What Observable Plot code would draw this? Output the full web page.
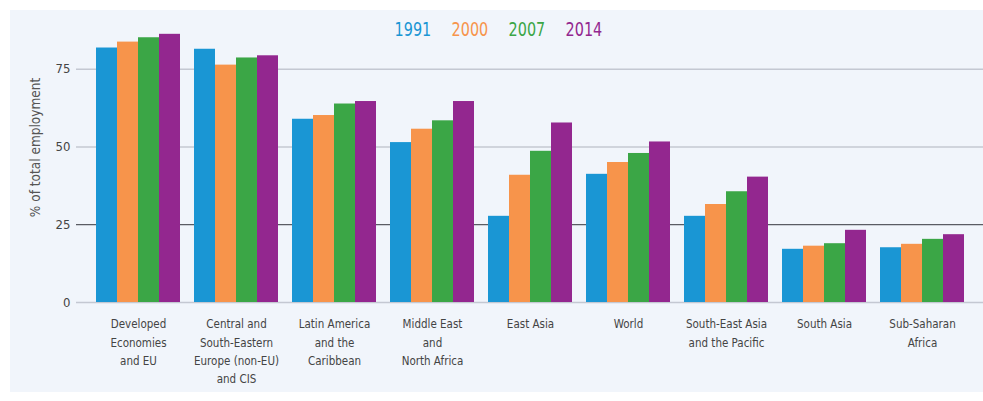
<!DOCTYPE html>
<html><head><meta charset="utf-8">
<script src="https://cdn.jsdelivr.net/npm/d3@7"></script>
<script src="https://cdn.jsdelivr.net/npm/@observablehq/plot@0.6"></script>
<style>
body{margin:0;background:#fff;}
#wrap{position:relative;width:983px;height:401px;overflow:hidden;font-family:"Liberation Sans Narrow","DejaVu Sans Condensed","DejaVu Sans",sans-serif;font-stretch:condensed;}
#panel{position:absolute;left:10px;top:10px;right:0;bottom:9px;background:#f1f5fb;}
#legend{position:absolute;top:17px;left:14px;right:0;display:flex;justify-content:center;gap:11px;font-size:20px;}
#legend span{display:inline-block;transform:scaleX(0.8);}
.layer{position:absolute;left:0;top:0;}
</style></head><body>
<div id="wrap"><div id="panel"></div><div id="legend"></div><div id="grid" class="layer"></div><div id="chart" class="layer"></div></div>
<script>
const regions = [
  "Developed\nEconomies\nand EU",
  "Central and\nSouth-Eastern\nEurope (non-EU)\nand CIS",
  "Latin America\nand the\nCaribbean",
  "Middle East\nand\nNorth Africa",
  "East Asia",
  "World",
  "South-East Asia\nand the Pacific",
  "South Asia",
  "Sub-Saharan\nAfrica"
];
const years = ["1991", "2000", "2007", "2014"];
const colors = ["#1a96d4", "#f7944b", "#3ba646", "#93278f"];
const v1991 = [81.8, 81.4, 58.9, 51.4, 27.7, 41.2, 27.7, 17.1, 17.6];
const v2000 = [83.7, 76.3, 60.1, 55.7, 40.9, 45.0, 31.5, 18.1, 18.7];
const v2007 = [85.1, 78.6, 63.8, 58.4, 48.6, 47.9, 35.6, 18.9, 20.3];
const v2014 = [86.2, 79.3, 64.6, 64.6, 57.7, 51.6, 40.3, 23.2, 21.8];
const yTicks = [0, 25, 50, 75];
const yLabel = "% of total employment";

const series = [v1991, v2000, v2007, v2014];
const data = [];
regions.forEach((r, i) => years.forEach((y, j) => data.push({region: r, year: y, value: series[j][i]})));

const font = '"Liberation Sans Narrow","DejaVu Sans Condensed","DejaVu Sans",sans-serif';
const base = {
  width: 983, height: 401, marginTop: 22, marginBottom: 99,
  style: {background: "transparent", fontFamily: font, fontStretch: "condensed", overflow: "visible"}
};

// underlay: grid lines, y axis, y label
const grid = Plot.plot({
  ...base, marginLeft: 82, marginRight: 5,
  y: {domain: [0, 90], axis: null},
  marks: [
    Plot.ruleY(yTicks.filter(d => d !== 25), {stroke: "#c4c8d2", strokeWidth: 1.5, insetLeft: -6, insetRight: -5}),
    Plot.ruleY(yTicks.filter(d => d === 25), {stroke: "#5a5c63", strokeWidth: 1.2, insetLeft: -6, insetRight: -5}),
    Plot.axisY(yTicks, {tickSize: 0, tickPadding: 12, fontSize: 13, fill: "#444", label: null}),
    Plot.text([yLabel], {frameAnchor: "left", textAnchor: "middle", rotate: -90, dx: -47, dy: -15, fontSize: 13.5, fill: "#555"})
  ]
});
document.getElementById("grid").appendChild(grid);

// bars
const chart = Plot.plot({
  ...base, marginLeft: 92, marginRight: 15,
  fx: {domain: regions, padding: 0.14, label: null},
  x: {domain: years, padding: 0, axis: null},
  y: {domain: [0, 90], axis: null},
  color: {domain: years, range: colors},
  marks: [
    Plot.barY(data, {fx: "region", x: "year", y: "value", fill: "year"}),
    Plot.axisFx({tickSize: 0, tickPadding: 13, fontSize: 11.5, lineHeight: 1.58, fill: "#444", label: null, anchor: "bottom"})
  ]
});
document.getElementById("chart").appendChild(chart);

const legend = document.getElementById("legend");
years.forEach((y, i) => {
  const s = document.createElement("span");
  s.textContent = y;
  s.style.color = colors[i];
  legend.appendChild(s);
});
</script>
</body></html>
